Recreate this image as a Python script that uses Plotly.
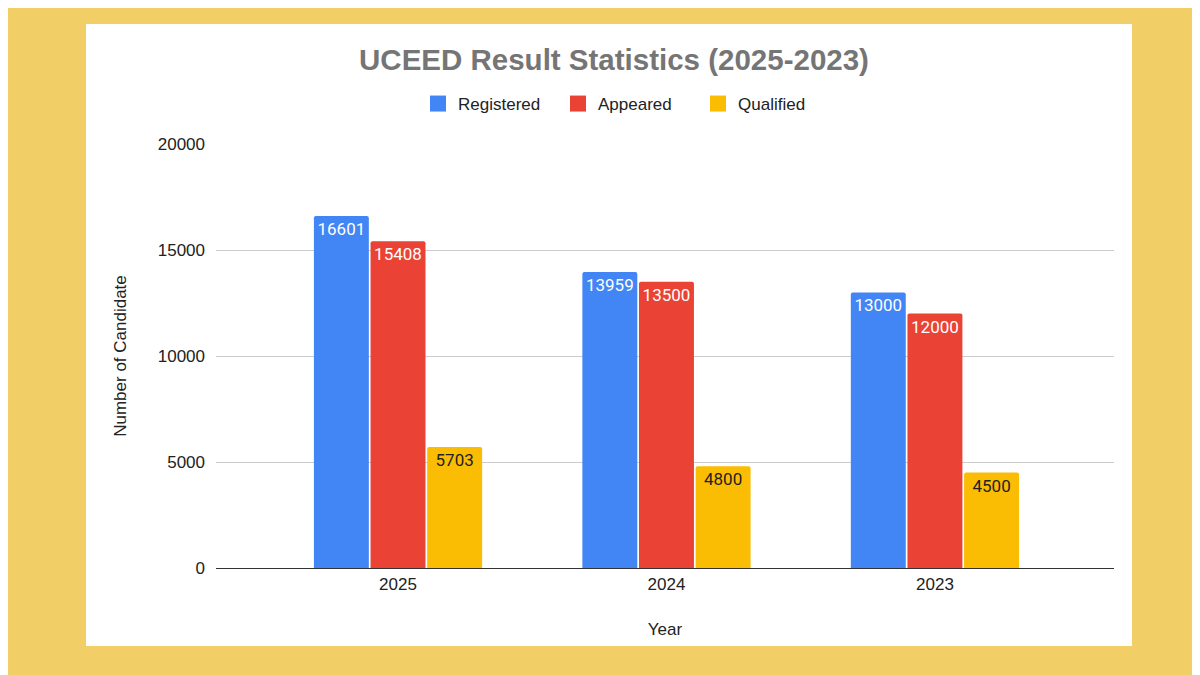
import plotly.graph_objects as go

years = ["2025", "2024", "2023"]
registered = [16601, 13959, 13000]
appeared = [15408, 13500, 12000]
qualified = [5703, 4800, 4500]
y_ticks = [0, 5000, 10000, 15000, 20000]

series = [
    ("Registered", registered, "#4285F4", "#FFFFFF"),
    ("Appeared", appeared, "#EA4335", "#FFFFFF"),
    ("Qualified", qualified, "#FBBC04", "#222222"),
]

OFF = 8  # page offset compensation
fig = go.Figure()
for name, vals, col, tcol in series:
    fig.add_trace(go.Bar(
        name=name, x=years, y=vals, showlegend=False,
        marker=dict(color=col, cornerradius=2, line=dict(width=0)),
        text=[str(v) for v in vals],
        textposition="inside", insidetextanchor="end",
        textfont=dict(color=tcol, size=17, family="Roboto"),
        textangle=0,
        cliponaxis=False,
    ))
for name, vals, col, tcol in series:
    fig.add_trace(go.Scatter(
        name=name, x=[None], y=[None], mode="markers",
        marker=dict(symbol="square", size=16, color=col),
        showlegend=True,
    ))

L, R, T, B = 216 - OFF, 1114 - OFF, 144 - OFF, 568 - OFF
W, H = R - L, B - T

fig.add_shape(type="rect", xref="paper", yref="paper",
              x0=(86 - OFF - L) / W, x1=(1132 - OFF - L) / W,
              y0=(B - (646 - OFF)) / H, y1=(B - (24 - OFF)) / H,
              fillcolor="#FFFFFF", line=dict(width=0), layer="below")

fig.update_layout(
    width=1200, height=675,
    paper_bgcolor="#F1CF66",
    plot_bgcolor="rgba(0,0,0,0)",
    margin=dict(l=L, r=1200 - R, t=T, b=675 - B),
    barmode="group", bargap=0.367, bargroupgap=0.03,
    font=dict(family="Liberation Sans", color="#222222"),
    title=dict(text="<b>UCEED Result Statistics (2025-2023)</b>",
               x=(614 - OFF) / 1200, xanchor="center", y=1 - (60 - OFF) / 675, yanchor="middle",
               font=dict(size=29.5, color="#757575", family="Liberation Sans")),
    legend=dict(orientation="h", x=(628 - OFF - L) / W, xanchor="center",
                y=(B - (104 - OFF)) / H, yanchor="middle",
                bgcolor="rgba(0,0,0,0)",
                font=dict(size=17, color="#222222"), itemwidth=30,
                entrywidth=95,
                traceorder="normal"),
    showlegend=True,
)
fig.update_xaxes(
    title=dict(text="Year", font=dict(size=17, color="#222222"), standoff=30),
    tickfont=dict(size=17, color="#222222"),
    range=[-0.678, 2.667],
    showline=True, linecolor="#333333", linewidth=1.2,
    ticks="", showgrid=False,
)
fig.update_yaxes(
    title=dict(text="Number of Candidate", font=dict(size=17, color="#222222"), standoff=26),
    range=[0, 20000], tickvals=y_ticks, ticktext=[str(v) for v in y_ticks],
    tickfont=dict(size=17, color="#222222"),
    gridcolor="#CCCCCC", gridwidth=1, zeroline=False,
    ticks="", ticklabelstandoff=10,
)

fig.write_html("out.html")
